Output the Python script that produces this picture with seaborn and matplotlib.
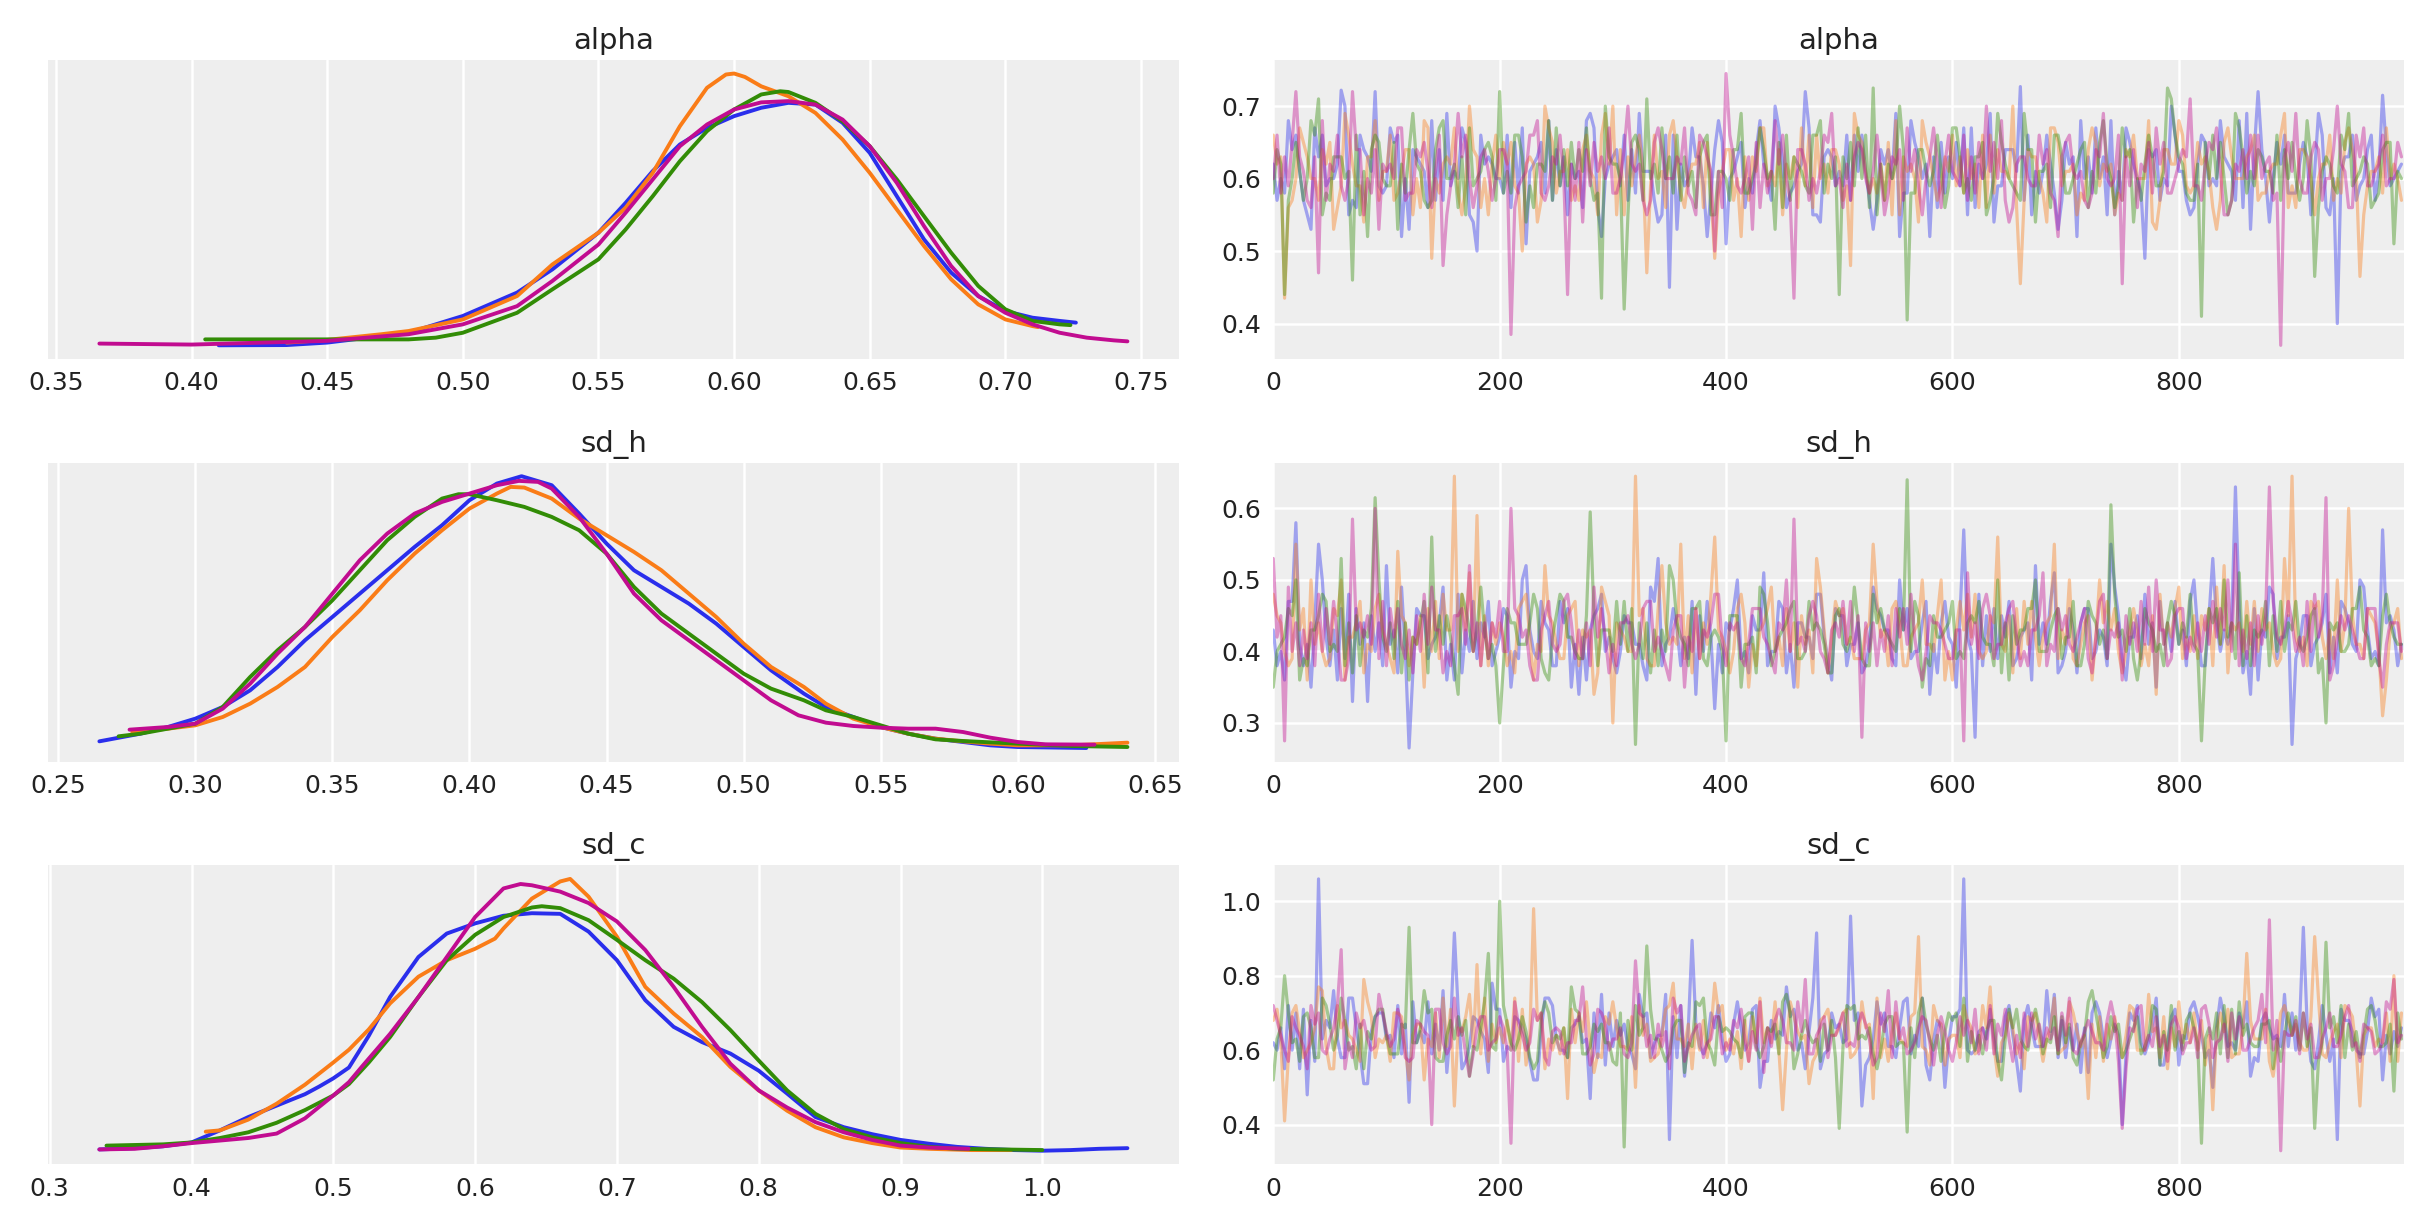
import numpy as np
import pandas as pd
import seaborn as sns
import matplotlib.pyplot as plt
from matplotlib.ticker import MultipleLocator

# chain colours (blue, orange, green, magenta)
chain_colors = ['#2a2eec', '#fa7c17', '#328c06', '#c10c90']
var_names = ['alpha', 'sd_h', 'sd_c']

# ---- KDE curves: (value, density) ----
alpha_kde_blue = [(.41, .0), (.435, .01), (.45, .11), (.48, .51), (.50, 1.19), (.52, 2.14), (.533, 3.08), (.55, 4.57),
                  (.56, 5.78), (.57, 7.07), (.58, 8.15), (.59, 8.82), (.60, 9.30), (.61, 9.64), (.62, 9.84),
                  (.63, 9.77), (.64, 9.03), (.65, 7.81), (.66, 6.05), (.67, 4.30), (.68, 2.95), (.69, 2.0),
                  (.70, 1.39), (.71, 1.12), (.72, .99), (.726, .92)]
alpha_kde_orange = [(.435, .11), (.45, .22), (.47, .45), (.48, .58), (.50, 1.05), (.52, 2.0), (.533, 3.28), (.55, 4.57),
                    (.56, 5.58), (.57, 7.0), (.58, 8.89), (.59, 10.45), (.597, 10.99), (.60, 11.03), (.604, 10.89),
                    (.61, 10.51), (.62, 10.11), (.63, 9.43), (.64, 8.35), (.65, 7.0), (.66, 5.51), (.67, 4.03),
                    (.68, 2.68), (.69, 1.66), (.70, 1.05), (.71, .78), (.712, .74)]
alpha_kde_green = [(.405, .24), (.43, .24), (.46, .24), (.48, .24), (.49, .31), (.50, .51), (.52, 1.32), (.533, 2.27),
                   (.55, 3.49), (.56, 4.70), (.57, 6.05), (.58, 7.47), (.59, 8.69), (.60, 9.57), (.61, 10.18),
                   (.617, 10.31), (.62, 10.28), (.63, 9.84), (.64, 9.09), (.65, 8.08), (.66, 6.73), (.67, 5.24),
                   (.68, 3.76), (.69, 2.41), (.70, 1.46), (.71, .99), (.72, .85), (.724, .82)]
alpha_kde_magenta = [(.366, .07), (.40, .03), (.45, .18), (.48, .45), (.50, .85), (.52, 1.59), (.533, 2.61),
                     (.55, 4.09), (.56, 5.38), (.57, 6.73), (.58, 8.08), (.59, 8.96), (.60, 9.57), (.61, 9.86),
                     (.62, 9.91), (.63, 9.77), (.64, 9.16), (.65, 8.08), (.66, 6.59), (.67, 4.84), (.68, 3.22),
                     (.69, 2.0), (.70, 1.32), (.71, .85), (.72, .51), (.73, .31), (.74, .20), (.745, .16)]

sd_h_kde_blue = [(.265, .22), (.28, .45), (.29, .65), (.30, .90), (.31, 1.25), (.32, 1.75), (.33, 2.45), (.34, 3.25),
                 (.35, 3.95), (.36, 4.65), (.37, 5.35), (.38, 6.05), (.39, 6.70), (.40, 7.45), (.41, 7.95),
                 (.419, 8.17), (.43, 7.90), (.44, 7.05), (.45, 6.15), (.46, 5.35), (.47, 4.85), (.48, 4.35),
                 (.49, 3.75), (.50, 3.05), (.51, 2.35), (.522, 1.65), (.53, 1.25), (.54, .95), (.55, .65),
                 (.56, .45), (.57, .30), (.58, .20), (.59, .10), (.60, .05), (.625, .02)]
sd_h_kde_orange = [(.277, .50), (.29, .60), (.30, .70), (.31, .95), (.32, 1.35), (.33, 1.85), (.34, 2.45), (.35, 3.35),
                   (.36, 4.15), (.37, 5.05), (.38, 5.85), (.39, 6.55), (.40, 7.20), (.41, 7.65), (.415, 7.85),
                   (.42, 7.83), (.43, 7.50), (.44, 6.90), (.45, 6.40), (.46, 5.90), (.47, 5.35), (.48, 4.65),
                   (.49, 3.95), (.50, 3.15), (.51, 2.45), (.522, 1.85), (.53, 1.35), (.54, .90), (.55, .65),
                   (.56, .45), (.57, .30), (.58, .22), (.59, .15), (.60, .10), (.62, .10), (.64, .18)]
sd_h_kde_green = [(.272, .37), (.28, .45), (.29, .60), (.30, .75), (.31, 1.25), (.32, 2.15), (.33, 2.95), (.34, 3.65),
                  (.35, 4.45), (.36, 5.35), (.37, 6.25), (.38, 6.95), (.39, 7.50), (.396, 7.63), (.40, 7.63),
                  (.41, 7.45), (.42, 7.25), (.43, 6.95), (.44, 6.55), (.45, 5.85), (.46, 4.85), (.47, 4.05),
                  (.48, 3.45), (.49, 2.85), (.50, 2.25), (.51, 1.80), (.522, 1.45), (.53, 1.15), (.54, .95),
                  (.55, .70), (.56, .45), (.57, .28), (.58, .23), (.60, .15), (.62, .08), (.64, .05)]
sd_h_kde_magenta = [(.276, .57), (.29, .65), (.30, .75), (.31, 1.20), (.32, 1.95), (.33, 2.85), (.34, 3.65),
                    (.35, 4.65), (.36, 5.65), (.37, 6.45), (.38, 7.05), (.39, 7.40), (.40, 7.65), (.41, 7.90),
                    (.418, 8.03), (.425, 8.0), (.43, 7.80), (.44, 6.95), (.45, 5.85), (.46, 4.65), (.47, 3.85),
                    (.48, 3.25), (.49, 2.65), (.50, 2.05), (.51, 1.45), (.52, 1.00), (.53, .78), (.54, .68),
                    (.55, .63), (.56, .60), (.57, .60), (.58, .50), (.59, .33), (.60, .20), (.61, .13), (.628, .12)]

sd_c_kde_blue = [(.335, .03), (.36, .05), (.38, .08), (.40, .14), (.42, .33), (.44, .54), (.46, .72), (.48, .90),
                 (.49, 1.02), (.50, 1.15), (.511, 1.32), (.525, 1.82), (.54, 2.43), (.56, 3.06), (.58, 3.43),
                 (.60, 3.59), (.62, 3.71), (.64, 3.75), (.66, 3.74), (.68, 3.46), (.70, 3.01), (.72, 2.38),
                 (.74, 1.96), (.76, 1.72), (.78, 1.54), (.80, 1.27), (.82, .91), (.84, .54), (.86, .38), (.88, .27),
                 (.90, .18), (.92, .12), (.94, .07), (.96, .04), (.98, .02), (1.00, .01), (1.02, .02), (1.04, .04),
                 (1.06, .05)]
sd_c_kde_orange = [(.41, .31), (.42, .33), (.44, .50), (.46, .75), (.48, 1.05), (.50, 1.40), (.511, 1.60), (.525, 1.92),
                   (.54, 2.33), (.56, 2.75), (.58, 3.01), (.60, 3.19), (.614, 3.35), (.62, 3.51), (.64, 3.98),
                   (.66, 4.25), (.667, 4.29), (.68, 4.01), (.70, 3.38), (.72, 2.59), (.74, 2.17), (.76, 1.80),
                   (.78, 1.33), (.80, .96), (.82, .64), (.84, .38), (.86, .22), (.88, .13), (.90, .06), (.92, .04),
                   (.95, .02), (.978, .02)]
sd_c_kde_green = [(.34, .09), (.38, .11), (.40, .14), (.42, .21), (.44, .30), (.46, .45), (.48, .65), (.50, .88),
                  (.511, 1.06), (.525, 1.40), (.54, 1.80), (.56, 2.43), (.58, 3.01), (.60, 3.41), (.62, 3.69),
                  (.64, 3.84), (.647, 3.86), (.66, 3.83), (.68, 3.64), (.70, 3.33), (.72, 3.01), (.74, 2.72),
                  (.76, 2.35), (.78, 1.91), (.80, 1.43), (.82, .96), (.84, .59), (.86, .35), (.88, .22), (.90, .13),
                  (.92, .07), (.94, .04), (.97, .03), (1.00, .02)]
sd_c_kde_magenta = [(.335, .03), (.36, .04), (.38, .08), (.40, .13), (.42, .17), (.44, .21), (.46, .28), (.48, .52),
                    (.50, .88), (.511, 1.09), (.52, 1.33), (.54, 1.85), (.56, 2.43), (.58, 3.06), (.60, 3.69),
                    (.62, 4.14), (.632, 4.21), (.64, 4.19), (.66, 4.09), (.68, 3.91), (.70, 3.62), (.72, 3.17),
                    (.74, 2.59), (.76, 1.96), (.78, 1.38), (.80, .96), (.82, .69), (.84, .46), (.86, .30), (.88, .18),
                    (.90, .09), (.92, .06), (.948, .04)]

# ---- traces: each chain kept in three interleaved lists of 100 values,
#      _a at draws 0, 10, ..., _c a third of the way on, _b two thirds on ----
alpha_blue_a = [.62, .58, .66, .55, .63, .60, .722, .57, .64, .72, .59, .66, .53, .62, .68, .57, .61, .65, .50, .63,
                .60, .56, .67, .62, .58, .64, .55, .61, .69, .52, .63, .66, .58, .61, .54, .45, .62, .67, .59, .64,
                .51, .63, .60, .68, .57, .62, .59, .72, .55, .64, .61, .57, .66, .53, .62, .69, .58, .63, .52, .65,
                .60, .67, .56, .62, .59, .64, .727, .55, .61, .58, .65, .52, .63, .60, .68, .57, .62, .49, .64, .59,
                .61, .55, .66, .60, .63, .57, .69, .72, .54, .62, .58, .65, .61, .56, .40, .63, .59, .66, .715, .60]
alpha_blue_b = [.60, .64, .57, .67, .59, .62, .55, .66, .61, .58, .65, .60, .63, .56, .64, .59, .67, .54, .62, .60,
                .66, .58, .61, .65, .57, .63, .60, .68, .56, .62, .59, .64, .61, .57, .66, .53, .60, .63, .58, .65,
                .61, .56, .64, .60, .67, .58, .62, .55, .63, .59, .66, .61, .57, .64, .60, .58, .65, .62, .56, .63,
                .59, .67, .60, .54, .64, .61, .66, .58, .62, .57, .63, .60, .67, .55, .61, .65, .58, .63, .60, .66,
                .57, .62, .59, .68, .61, .56, .64, .60, .65, .58, .62, .55, .66, .60, .63, .57, .64, .61, .59, .62]
alpha_blue_c = [.57, .68, .61, .53, .66, .60, .70, .56, .63, .59, .67, .52, .64, .61, .57, .69, .60, .55, .66, .62,
                .58, .65, .51, .63, .68, .59, .62, .56, .67, .60, .64, .57, .69, .61, .55, .66, .59, .63, .52, .68,
                .60, .65, .58, .62, .70, .56, .61, .67, .54, .63, .59, .66, .61, .57, .64, .52, .68, .60, .63, .58,
                .65, .55, .62, .69, .59, .64, .57, .61, .66, .53, .62, .68, .58, .63, .55, .67, .60, .64, .57, .70,
                .61, .56, .65, .59, .62, .68, .53, .64, .60, .66, .58, .63, .69, .55, .61, .66, .60, .57, .64, .61]
alpha_orange_a = [.66, .435, .60, .63, .57, .65, .59, .62, .54, .68, .61, .58, .64, .56, .49, .62, .67, .59, .63, .55,
                  .60, .65, .50, .62, .70, .58, .64, .57, .61, .66, .70, .55, .63, .47, .60, .66, .58, .62, .56, .49,
                  .64, .60, .57, .67, .61, .55, .63, .59, .66, .58, .62, .48, .65, .60, .57, .68, .61, .54, .63, .59,
                  .66, .58, .62, .56, .64, .60, .455, .63, .58, .67, .61, .55, .64, .59, .62, .57, .66, .60, .53, .64,
                  .68, .58, .62, .56, .65, .60, .63, .57, .61, .66, .59, .64, .55, .62, .60, .67, .465, .61, .58, .62]
alpha_orange_b = [.63, .57, .65, .60, .62, .56, .66, .59, .63, .61, .57, .64, .60, .67, .58, .62, .55, .64, .60, .66,
                  .62, .58, .63, .57, .65, .61, .59, .66, .55, .62, .64, .59, .61, .66, .56, .63, .60, .65, .58, .61,
                  .57, .63, .61, .59, .64, .60, .67, .56, .62, .64, .59, .66, .58, .62, .55, .63, .60, .65, .57, .61,
                  .63, .60, .66, .58, .61, .56, .64, .60, .67, .59, .62, .57, .65, .61, .58, .63, .60, .54, .64, .62,
                  .59, .65, .61, .57, .63, .60, .66, .58, .62, .56, .64, .60, .62, .57, .65, .61, .59, .63, .60, .57]
alpha_orange_c = [.62, .56, .67, .60, .64, .53, .69, .59, .63, .57, .66, .61, .55, .68, .60, .63, .58, .70, .56, .62,
                  .65, .59, .62, .54, .67, .61, .57, .64, .60, .69, .55, .63, .66, .59, .61, .68, .56, .62, .65, .58,
                  .64, .52, .63, .67, .59, .62, .56, .66, .60, .64, .57, .69, .61, .58, .65, .55, .62, .68, .60, .63,
                  .59, .64, .56, .66, .61, .70, .57, .63, .54, .65, .61, .58, .67, .62, .55, .64, .60, .68, .57, .62,
                  .66, .59, .63, .53, .67, .60, .64, .58, .62, .69, .56, .63, .60, .66, .58, .64, .55, .61, .67, .60]
alpha_green_a = [.58, .44, .65, .60, .71, .57, .63, .46, .61, .66, .59, .53, .64, .61, .57, .68, .62, .55, .60, .65,
                 .72, .58, .63, .56, .61, .67, .59, .64, .60, .435, .62, .42, .66, .71, .58, .63, .57, .61, .65, .55,
                 .60, .64, .58, .67, .61, .56, .63, .59, .66, .62, .44, .65, .60, .725, .57, .62, .405, .64, .59, .61,
                 .67, .58, .63, .55, .69, .60, .57, .64, .61, .66, .58, .62, .56, .65, .60, .67, .54, .62, .59, .725,
                 .63, .57, .41, .66, .60, .69, .58, .64, .61, .57, .65, .60, .465, .63, .58, .69, .61, .56, .64, .51]
alpha_green_b = [.62, .60, .57, .66, .58, .63, .61, .55, .64, .60, .65, .58, .62, .56, .67, .60, .63, .59, .64, .57,
                 .61, .66, .59, .62, .57, .64, .60, .67, .58, .63, .60, .65, .57, .62, .60, .66, .59, .63, .55, .61,
                 .64, .58, .62, .60, .65, .57, .61, .66, .58, .63, .60, .67, .56, .62, .60, .64, .58, .61, .66, .59,
                 .63, .57, .65, .60, .62, .58, .64, .61, .56, .63, .60, .65, .58, .62, .59, .64, .57, .63, .61, .66,
                 .58, .62, .60, .65, .57, .63, .59, .61, .66, .60, .57, .63, .61, .59, .64, .60, .62, .58, .65, .60]
alpha_green_c = [.64, .57, .61, .68, .55, .63, .60, .66, .52, .65, .59, .62, .69, .57, .64, .60, .56, .67, .61, .63,
                 .58, .66, .54, .62, .68, .59, .65, .61, .57, .70, .62, .55, .64, .60, .67, .58, .63, .56, .66, .61,
                 .57, .69, .60, .64, .53, .66, .62, .58, .68, .60, .63, .59, .66, .55, .62, .70, .58, .64, .61, .56,
                 .67, .60, .63, .57, .65, .59, .69, .54, .62, .66, .58, .64, .61, .68, .56, .63, .60, .66, .59, .71,
                 .62, .57, .65, .60, .55, .67, .61, .63, .58, .64, .60, .68, .56, .62, .66, .59, .63, .57, .65, .61]
alpha_magenta_a = [.60, .63, .72, .57, .47, .62, .59, .72, .55, .64, .61, .67, .58, .63, .56, .48, .62, .66, .59, .61,
                   .64, .385, .60, .66, .57, .62, .44, .65, .59, .63, .58, .64, .61, .55, .67, .60, .62, .57, .65, .50,
                   .745, .59, .63, .56, .61, .66, .435, .62, .58, .65, .60, .57, .64, .61, .55, .62, .67, .59, .63, .56,
                   .61, .66, .58, .70, .60, .54, .63, .59, .62, .57, .65, .60, .56, .63, .59, .455, .64, .61, .67, .58,
                   .62, .71, .57, .64, .55, .62, .60, .66, .63, .37, .61, .58, .65, .60, .70, .56, .63, .59, .66, .60]
alpha_magenta_b = [.58, .65, .61, .63, .57, .66, .60, .64, .58, .62, .60, .57, .64, .61, .66, .59, .63, .56, .64, .60,
                   .62, .59, .66, .58, .63, .60, .57, .64, .61, .67, .60, .62, .57, .65, .60, .63, .58, .66, .61, .56,
                   .63, .60, .65, .58, .62, .57, .64, .60, .66, .59, .62, .65, .58, .61, .63, .57, .64, .60, .62, .66,
                   .59, .63, .60, .65, .57, .62, .60, .66, .58, .63, .61, .57, .64, .60, .66, .59, .62, .58, .65, .60,
                   .63, .59, .65, .61, .57, .64, .60, .62, .58, .65, .60, .63, .57, .64, .61, .66, .59, .62, .60, .63]
alpha_magenta_c = [.66, .59, .63, .56, .68, .61, .57, .64, .60, .53, .62, .67, .58, .65, .61, .55, .69, .60, .63, .57,
                   .64, .56, .61, .68, .59, .66, .62, .54, .65, .60, .58, .70, .62, .57, .64, .60, .67, .55, .63, .61,
                   .66, .58, .53, .62, .68, .60, .64, .57, .61, .69, .56, .63, .60, .66, .58, .64, .61, .55, .67, .62,
                   .60, .57, .65, .61, .68, .56, .63, .59, .64, .52, .66, .61, .58, .69, .60, .63, .56, .65, .62, .58,
                   .64, .59, .62, .67, .55, .61, .66, .60, .57, .63, .69, .58, .64, .60, .62, .56, .67, .61, .59, .65]

sd_h_blue_a = [.43, .36, .58, .41, .55, .38, .46, .33, .44, .40, .52, .37, .265, .45, .41, .49, .36, .43, .39, .47,
               .42, .35, .50, .40, .44, .38, .46, .34, .43, .48, .39, .45, .41, .36, .53, .42, .38, .47, .40, .32,
               .44, .50, .37, .43, .40, .46, .35, .42, .48, .39, .45, .41, .37, .49, .43, .38, .46, .40, .34, .44,
               .41, .57, .28, .45, .39, .47, .42, .36, .44, .51, .40, .37, .46, .43, .55, .39, .42, .48, .35, .44,
               .41, .47, .38, .53, .43, .63, .40, .36, .49, .42, .27, .45, .41, .48, .37, .44, .50, .39, .57, .43]
sd_h_blue_b = [.40, .47, .38, .44, .42, .36, .48, .41, .45, .38, .43, .40, .46, .39, .44, .41, .37, .47, .42, .40,
               .45, .39, .43, .47, .38, .44, .41, .36, .46, .42, .40, .44, .38, .47, .41, .43, .39, .45, .42, .37,
               .46, .40, .43, .38, .47, .41, .44, .39, .42, .46, .38, .44, .41, .45, .39, .43, .40, .47, .37, .42,
               .45, .40, .38, .46, .42, .39, .44, .41, .47, .38, .43, .46, .40, .38, .45, .42, .39, .44, .41, .47,
               .38, .43, .45, .40, .44, .37, .46, .42, .39, .45, .41, .38, .44, .42, .46, .40, .43, .38, .45, .41]
sd_h_blue_c = [.38, .47, .41, .35, .50, .43, .39, .46, .33, .44, .41, .49, .37, .45, .42, .36, .48, .40, .44, .38,
               .46, .40, .52, .39, .43, .47, .35, .42, .45, .40, .37, .44, .41, .49, .38, .46, .42, .34, .47, .41,
               .43, .39, .45, .51, .40, .37, .44, .42, .48, .36, .45, .41, .38, .46, .43, .50, .39, .44, .41, .47,
               .35, .42, .48, .40, .45, .38, .43, .52, .41, .37, .46, .44, .39, .42, .49, .36, .45, .41, .47, .40,
               .43, .50, .38, .44, .41, .46, .34, .43, .48, .42, .39, .45, .42, .37, .47, .41, .49, .40, .44, .38]
sd_h_orange_a = [.48, .40, .55, .36, .44, .39, .50, .42, .37, .46, .41, .54, .38, .45, .40, .48, .645, .43, .59, .38,
                 .44, .40, .47, .36, .52, .41, .45, .38, .43, .49, .30, .42, .645, .39, .46, .41, .55, .37, .44, .56,
                 .40, .46, .35, .43, .49, .38, .44, .41, .53, .37, .45, .42, .39, .55, .43, .47, .38, .44, .41, .50,
                 .36, .43, .48, .40, .56, .45, .39, .47, .42, .55, .41, .38, .45, .50, .43, .37, .46, .41, .34, .44,
                 .49, .40, .45, .38, .52, .43, .47, .40, .44, .39, .645, .42, .46, .39, .50, .60, .41, .45, .31, .44]
sd_h_orange_b = [.44, .39, .46, .41, .38, .45, .42, .47, .40, .43, .37, .44, .41, .46, .39, .43, .48, .40, .45, .41,
                 .38, .46, .42, .40, .44, .39, .47, .42, .37, .45, .43, .40, .46, .38, .44, .41, .45, .39, .48, .42,
                 .40, .44, .38, .46, .42, .40, .45, .37, .43, .47, .41, .39, .44, .42, .46, .38, .43, .41, .45, .40,
                 .47, .42, .39, .44, .40, .46, .41, .38, .45, .43, .39, .44, .42, .47, .40, .43, .38, .45, .41, .46,
                 .42, .39, .46, .41, .44, .40, .47, .43, .38, .45, .40, .47, .42, .39, .44, .41, .46, .40, .43, .39]
sd_h_orange_c = [.45, .38, .43, .50, .40, .46, .36, .44, .41, .48, .39, .45, .42, .35, .47, .43, .40, .51, .38, .44,
                 .42, .37, .48, .41, .45, .39, .46, .43, .34, .47, .44, .40, .45, .38, .52, .42, .39, .46, .41, .43,
                 .37, .48, .41, .44, .40, .46, .35, .43, .49, .42, .46, .39, .43, .47, .38, .44, .42, .50, .40, .36,
                 .43, .48, .40, .45, .41, .37, .47, .42, .44, .39, .50, .41, .36, .44, .46, .40, .43, .38, .48, .42,
                 .39, .45, .43, .49, .37, .44, .41, .46, .40, .53, .42, .38, .47, .43, .40, .45, .39, .44, .36, .46]
sd_h_green_a = [.35, .42, .50, .38, .45, .40, .53, .37, .43, .615, .40, .47, .36, .44, .56, .41, .38, .46, .43, .39,
                .30, .44, .41, .48, .37, .45, .42, .39, .595, .43, .40, .47, .27, .44, .38, .52, .42, .46, .39, .43,
                .275, .45, .41, .49, .38, .43, .47, .40, .44, .37, .46, .42, .39, .48, .43, .40, .64, .45, .38, .42,
                .47, .39, .44, .41, .50, .36, .43, .46, .40, .45, .42, .38, .47, .41, .605, .43, .39, .46, .40, .44,
                .41, .48, .275, .44, .50, .39, .45, .42, .38, .47, .43, .40, .46, .30, .44, .41, .49, .38, .45, .42]
sd_h_green_b = [.41, .45, .39, .43, .47, .40, .44, .38, .46, .42, .39, .44, .41, .37, .45, .42, .48, .40, .43, .38,
                .46, .41, .44, .39, .42, .47, .40, .45, .38, .43, .41, .46, .39, .43, .40, .44, .38, .47, .42, .40,
                .45, .41, .37, .44, .42, .46, .39, .43, .41, .45, .40, .44, .38, .46, .41, .43, .47, .39, .42, .44,
                .40, .45, .42, .38, .44, .41, .46, .40, .43, .39, .47, .41, .44, .39, .42, .46, .40, .43, .38, .45,
                .42, .40, .46, .41, .44, .38, .43, .47, .40, .44, .41, .45, .39, .43, .40, .46, .42, .38, .44, .41]
sd_h_green_c = [.40, .46, .36, .43, .48, .41, .38, .45, .42, .50, .44, .37, .42, .47, .40, .45, .34, .43, .49, .41,
                .38, .44, .41, .46, .36, .48, .42, .39, .45, .43, .47, .40, .44, .37, .43, .50, .41, .46, .38, .42,
                .45, .35, .42, .48, .40, .44, .39, .47, .43, .37, .41, .49, .38, .44, .42, .46, .40, .35, .45, .43,
                .39, .44, .47, .41, .37, .45, .43, .50, .40, .46, .42, .38, .45, .43, .48, .40, .36, .44, .41, .47,
                .44, .41, .39, .46, .42, .51, .38, .43, .45, .40, .47, .42, .37, .44, .40, .46, .43, .39, .48, .41]
sd_h_magenta_a = [.53, .275, .44, .39, .48, .41, .36, .585, .42, .60, .38, .46, .43, .40, .49, .37, .45, .41, .44, .39,
                  .47, .60, .42, .36, .45, .40, .48, .43, .38, .46, .41, .44, .39, .47, .42, .36, .45, .40, .43, .48,
                  .38, .44, .41, .46, .39, .43, .585, .40, .45, .37, .42, .47, .28, .44, .40, .46, .41, .38, .45, .43,
                  .39, .275, .44, .48, .41, .46, .38, .43, .51, .40, .45, .42, .39, .47, .43, .36, .44, .41, .50, .38,
                  .46, .42, .40, .47, .43, .55, .39, .45, .63, .41, .44, .38, .48, .615, .42, .45, .39, .46, .35, .44]
sd_h_magenta_b = [.45, .40, .43, .38, .46, .42, .39, .44, .41, .47, .42, .39, .45, .41, .43, .38, .46, .40, .44, .42,
                  .40, .45, .38, .43, .41, .47, .39, .44, .42, .37, .44, .41, .46, .40, .38, .45, .42, .39, .44, .41,
                  .43, .38, .46, .41, .44, .40, .42, .47, .39, .44, .41, .45, .40, .43, .38, .46, .42, .40, .44, .39,
                  .43, .41, .46, .39, .44, .42, .38, .45, .41, .43, .40, .46, .42, .39, .44, .41, .47, .40, .43, .45,
                  .39, .44, .41, .46, .40, .43, .38, .45, .42, .47, .42, .40, .45, .38, .43, .41, .46, .39, .44, .40]
sd_h_magenta_c = [.42, .49, .38, .44, .40, .47, .36, .43, .45, .39, .46, .41, .37, .48, .43, .40, .45, .52, .38, .44,
                  .40, .46, .43, .36, .47, .41, .44, .39, .49, .42, .38, .45, .41, .47, .40, .43, .35, .46, .42, .48,
                  .44, .39, .46, .42, .37, .50, .41, .45, .40, .43, .47, .40, .44, .38, .45, .42, .48, .36, .44, .41,
                  .43, .51, .39, .45, .41, .47, .40, .43, .38, .46, .41, .44, .37, .48, .42, .45, .40, .49, .43, .39,
                  .46, .40, .45, .42, .50, .38, .44, .41, .47, .43, .40, .47, .42, .36, .45, .43, .39, .46, .41, .44]

sd_c_blue_a = [.62, .55, .70, .48, 1.06, .66, .58, .74, .51, .69, .63, .72, .46, .65, .59, .76, .915, .57, .68, .54,
               .71, .60, .66, .52, .74, .63, .58, .69, .47, .75, .61, .67, .55, .70, .64, .36, .72, .895, .59, .66,
               .57, .73, .62, .50, .68, .64, .71, .55, .915, .60, .67, .96, .45, .63, .70, .58, .74, .61, .52, .66,
               .69, 1.06, .60, .63, .57, .72, .49, .66, .61, .75, .58, .67, .54, .70, .63, .40, .68, .59, .74, .62,
               .56, .71, .64, .50, .69, .60, .73, .57, .66, .61, .70, .93, .55, .64, .36, .68, .59, .74, .52, .65]
sd_c_blue_b = [.66, .60, .71, .57, .68, .63, .74, .59, .65, .70, .58, .67, .62, .73, .60, .66, .55, .69, .63, .71,
               .61, .68, .57, .65, .72, .60, .67, .63, .58, .70, .64, .59, .69, .62, .75, .58, .66, .61, .70, .63,
               .67, .60, .72, .57, .65, .69, .62, .74, .59, .66, .63, .70, .58, .67, .61, .73, .64, .56, .68, .62,
               .71, .59, .66, .63, .69, .57, .72, .61, .65, .68, .60, .66, .73, .58, .64, .70, .62, .67, .56, .71,
               .63, .69, .60, .74, .62, .66, .58, .70, .64, .61, .67, .57, .72, .63, .68, .60, .65, .71, .59, .66]
sd_c_blue_c = [.60, .72, .55, .68, .63, .76, .58, .66, .51, .70, .64, .59, .73, .62, .67, .54, .71, .61, .65, .78,
               .57, .69, .63, .52, .74, .60, .66, .62, .70, .56, .68, .61, .75, .58, .64, .69, .53, .67, .62, .72,
               .59, .66, .71, .57, .63, .77, .60, .65, .55, .70, .62, .68, .56, .73, .61, .66, .59, .74, .63, .50,
               .69, .60, .65, .71, .57, .64, .68, .61, .76, .58, .66, .54, .70, .63, .67, .59, .72, .62, .56, .69,
               .64, .73, .58, .66, .61, .70, .53, .68, .63, .75, .60, .67, .62, .57, .71, .65, .59, .69, .64, .61]
sd_c_orange_a = [.68, .41, .72, .60, .77, .55, .66, .63, .79, .58, .64, .70, .52, .67, .61, .74, .45, .69, .83, .57,
                 .66, .60, .71, .98, .55, .64, .47, .70, .62, .58, .73, .61, .50, .67, .59, .72, .63, .55, .68, .78,
                 .60, .65, .57, .74, .62, .44, .69, .64, .59, .71, .66, .58, .73, .47, .63, .70, .61, .905, .56, .67,
                 .64, .72, .59, .66, .53, .70, .62, .68, .57, .74, .61, .65, .47, .69, .63, .58, .71, .60, .66, .55,
                 .73, .62, .68, .44, .65, .59, .86, .63, .57, .70, .64, .60, .905, .58, .67, .71, .45, .66, .62, .80]
sd_c_orange_b = [.63, .70, .58, .66, .61, .72, .64, .57, .69, .62, .70, .60, .67, .63, .58, .71, .65, .61, .74, .62,
                 .68, .57, .64, .70, .60, .66, .62, .73, .59, .67, .61, .69, .64, .58, .71, .63, .67, .60, .65, .72,
                 .59, .68, .62, .66, .60, .73, .63, .57, .69, .64, .71, .61, .67, .58, .65, .62, .70, .60, .68, .63,
                 .58, .66, .72, .61, .64, .59, .69, .63, .66, .60, .70, .64, .58, .67, .62, .72, .60, .65, .69, .61,
                 .67, .60, .64, .70, .58, .66, .63, .71, .61, .68, .62, .69, .59, .65, .72, .60, .66, .63, .57, .70]
sd_c_orange_c = [.71, .58, .65, .62, .76, .55, .68, .60, .73, .63, .57, .69, .64, .52, .70, .61, .66, .75, .59, .67,
                 .62, .74, .56, .68, .63, .59, .71, .65, .54, .69, .66, .60, .72, .57, .64, .78, .61, .67, .58, .70,
                 .63, .55, .69, .62, .73, .60, .65, .51, .68, .64, .70, .59, .66, .74, .57, .63, .69, .61, .72, .56,
                 .64, .68, .60, .77, .62, .66, .55, .70, .63, .59, .73, .61, .67, .57, .69, .64, .60, .75, .58, .66,
                 .62, .70, .56, .65, .71, .59, .68, .63, .53, .72, .67, .60, .74, .62, .58, .69, .64, .61, .70, .57]
sd_c_green_a = [.52, .80, .63, .70, .58, .67, .74, .61, .55, .69, .64, .59, .93, .66, .71, .57, .63, .68, .60, .86,
                1.00, .62, .69, .55, .73, .64, .58, .70, .61, .67, .57, .34, .72, .88, .63, .59, .68, .61, .74, .56,
                .66, .62, .70, .58, .65, .73, .55, .68, .63, .60, .39, .71, .64, .59, .67, .61, .38, .70, .63, .57,
                .68, .74, .60, .65, .57, .71, .63, .67, .59, .69, .62, .56, .73, .64, .69, .58, .66, .61, .71, .60,
                .65, .70, .35, .63, .72, .59, .67, .61, .68, .57, .64, .70, .39, .89, .62, .67, .58, .72, .61, .49]
sd_c_green_b = [.66, .62, .69, .58, .72, .64, .60, .67, .63, .71, .59, .66, .62, .70, .57, .68, .64, .61, .73, .60,
                .67, .63, .58, .69, .62, .66, .71, .59, .65, .62, .70, .60, .66, .63, .57, .68, .62, .72, .60, .65,
                .63, .69, .61, .66, .59, .70, .64, .62, .67, .58, .72, .63, .66, .60, .69, .62, .58, .67, .64, .70,
                .61, .65, .59, .68, .63, .71, .60, .66, .62, .69, .58, .64, .70, .61, .67, .63, .59, .72, .65, .60,
                .68, .62, .66, .59, .71, .64, .61, .67, .63, .70, .60, .66, .62, .69, .58, .65, .71, .61, .67, .63]
sd_c_green_c = [.63, .70, .57, .66, .74, .60, .68, .55, .65, .71, .59, .67, .62, .76, .58, .64, .69, .53, .66, .61,
                .72, .60, .65, .57, .70, .63, .77, .59, .67, .62, .56, .68, .64, .71, .60, .66, .54, .73, .62, .69,
                .65, .58, .70, .61, .67, .75, .59, .64, .57, .68, .61, .72, .63, .55, .69, .62, .66, .74, .60, .65,
                .70, .57, .64, .68, .52, .66, .61, .71, .63, .59, .67, .62, .76, .58, .65, .60, .69, .64, .56, .72,
                .60, .66, .63, .70, .58, .73, .62, .67, .55, .64, .69, .61, .57, .66, .72, .60, .64, .68, .62, .70]
sd_c_magenta_a = [.72, .60, .66, .55, .70, .63, .87, .58, .68, .61, .65, .71, .57, .67, .40, .62, .74, .59, .66, .60,
                  .69, .35, .64, .71, .58, .66, .62, .68, .56, .70, .63, .59, .84, .61, .67, .55, .72, .64, .58, .69,
                  .62, .66, .57, .73, .61, .68, .60, .79, .64, .58, .67, .62, .70, .56, .65, .73, .59, .66, .62, .69,
                  .57, .64, .71, .60, .67, .63, .58, .70, .61, .66, .64, .59, .68, .62, .73, .39, .65, .60, .69, .57,
                  .66, .62, .71, .58, .67, .63, .60, .68, .95, .33, .64, .70, .58, .66, .61, .72, .57, .65, .62, .79]
sd_c_magenta_b = [.64, .69, .61, .67, .59, .72, .62, .66, .60, .70, .63, .58, .68, .64, .71, .61, .66, .59, .69, .63,
                  .60, .67, .62, .70, .65, .59, .68, .63, .71, .60, .66, .62, .69, .58, .65, .70, .61, .67, .63, .59,
                  .68, .63, .60, .66, .71, .62, .65, .59, .69, .64, .61, .67, .63, .70, .58, .66, .62, .68, .64, .60,
                  .69, .62, .66, .59, .71, .64, .61, .67, .63, .70, .60, .65, .62, .68, .57, .66, .72, .61, .64, .69,
                  .62, .58, .67, .63, .70, .60, .66, .62, .68, .64, .59, .67, .63, .61, .69, .62, .66, .60, .71, .64]
sd_c_magenta_c = [.68, .57, .64, .72, .60, .66, .55, .70, .63, .75, .61, .67, .58, .65, .71, .59, .64, .53, .69, .62,
                  .66, .73, .60, .68, .56, .65, .62, .77, .59, .67, .63, .58, .70, .64, .61, .74, .57, .66, .62, .69,
                  .60, .71, .65, .54, .68, .62, .73, .59, .66, .64, .70, .61, .67, .58, .76, .63, .60, .69, .56, .65,
                  .62, .68, .59, .72, .64, .57, .70, .63, .66, .60, .74, .62, .65, .60, .68, .55, .71, .64, .61, .67,
                  .59, .66, .72, .62, .57, .69, .63, .75, .60, .65, .68, .63, .58, .70, .64, .61, .67, .59, .73, .62]

draw = np.arange(300) * 10 / 3

kdes = {'alpha': [alpha_kde_blue, alpha_kde_orange, alpha_kde_green, alpha_kde_magenta],
        'sd_h': [sd_h_kde_blue, sd_h_kde_orange, sd_h_kde_green, sd_h_kde_magenta],
        'sd_c': [sd_c_kde_blue, sd_c_kde_orange, sd_c_kde_green, sd_c_kde_magenta]}
traces = {'alpha': [(alpha_blue_a, alpha_blue_c, alpha_blue_b), (alpha_orange_a, alpha_orange_c, alpha_orange_b),
                    (alpha_green_a, alpha_green_c, alpha_green_b), (alpha_magenta_a, alpha_magenta_c, alpha_magenta_b)],
          'sd_h': [(sd_h_blue_a, sd_h_blue_c, sd_h_blue_b), (sd_h_orange_a, sd_h_orange_c, sd_h_orange_b),
                   (sd_h_green_a, sd_h_green_c, sd_h_green_b), (sd_h_magenta_a, sd_h_magenta_c, sd_h_magenta_b)],
          'sd_c': [(sd_c_blue_a, sd_c_blue_c, sd_c_blue_b), (sd_c_orange_a, sd_c_orange_c, sd_c_orange_b),
                   (sd_c_green_a, sd_c_green_c, sd_c_green_b), (sd_c_magenta_a, sd_c_magenta_c, sd_c_magenta_b)]}
kde_steps = {'alpha': 0.05, 'sd_h': 0.05, 'sd_c': 0.1}
trace_steps = {'alpha': 0.1, 'sd_h': 0.1, 'sd_c': 0.2}

sns.set_style("darkgrid", {"axes.facecolor": "#eeeeee", "grid.color": "white",
                           "axes.edgecolor": "#eeeeee"})
plt.rcParams['font.family'] = ['DejaVu Sans']

fig, axes = plt.subplots(3, 2, figsize=(12.115, 6.115), dpi=200)
fig.subplots_adjust(left=0.0198, right=0.9922, top=0.951, bottom=0.048, wspace=0.0835, hspace=0.347)

for row, var in enumerate(var_names):
    ax_kde, ax_tr = axes[row]

    # density
    for pts, c in zip(kdes[var], chain_colors):
        df = pd.DataFrame(pts, columns=['x', 'density'])
        sns.lineplot(data=df, x='x', y='density', ax=ax_kde, color=c, lw=1.4,
                     estimator=None, sort=False)
    ax_kde.set_yticks([])
    ax_kde.xaxis.set_major_locator(MultipleLocator(kde_steps[var]))
    ax_kde.grid(axis='x', color='white', lw=0.9)

    # trace (interleave the three parts of each chain)
    for parts, c in zip(traces[var], chain_colors):
        vals = np.column_stack(parts).ravel()
        sns.lineplot(x=draw, y=vals, ax=ax_tr, color=c, lw=1.15, alpha=0.4,
                     estimator=None, sort=False)
    ax_tr.set_xlim(0, 999)
    ax_tr.xaxis.set_major_locator(MultipleLocator(200))
    ax_tr.yaxis.set_major_locator(MultipleLocator(trace_steps[var]))
    ax_tr.grid(color='white', lw=0.9)

    for ax in (ax_kde, ax_tr):
        ax.set_title(var, fontsize=10.5, color='#222222', pad=4)
        ax.set_xlabel('')
        ax.set_ylabel('')
        ax.tick_params(length=0, labelsize=9, labelcolor='#222222', pad=4.5)
        for s in ax.spines.values():
            s.set_visible(False)

fig.savefig('out.png', dpi=200)
